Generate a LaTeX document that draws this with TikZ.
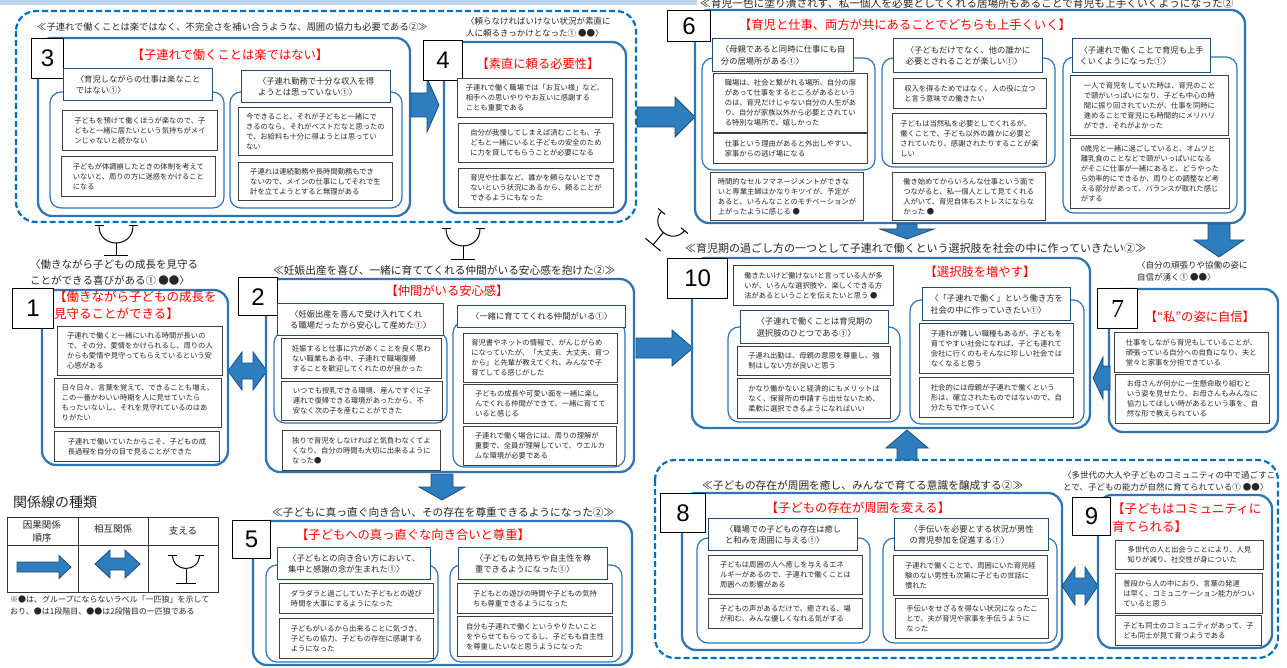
\documentclass[tikz,border=0pt]{standalone}
\usepackage{fontspec}
\setmainfont{Noto Sans CJK JP}
\newfontfamily\numfont{Liberation Sans}
\newfontfamily\numserif{Liberation Serif}
\definecolor{mainblue}{RGB}{46,117,182}
\definecolor{dashblue}{RGB}{0,112,192}
\definecolor{lblborder}{RGB}{31,78,121}
\definecolor{itemborder}{RGB}{64,64,64}
\definecolor{arrowfill}{RGB}{46,125,190}
\definecolor{arrowdark}{RGB}{31,78,121}
\definecolor{topband}{RGB}{189,215,238}
\definecolor{ttlred}{RGB}{255,0,0}
\newcommand{\BArR}[6]{\filldraw[barrow] (#1,#3-#4) -- (#2-#6,#3-#4) -- (#2-#6,#3-#5) -- (#2,#3) -- (#2-#6,#3+#5) -- (#2-#6,#3+#4) -- (#1,#3+#4) -- cycle;}
\newcommand{\BArL}[6]{\filldraw[barrow] (#1,#3-#4) -- (#2+#6,#3-#4) -- (#2+#6,#3-#5) -- (#2,#3) -- (#2+#6,#3+#5) -- (#2+#6,#3+#4) -- (#1,#3+#4) -- cycle;}
\newcommand{\BArD}[6]{\filldraw[barrow] (#3-#4,#1) -- (#3-#4,#2-#6) -- (#3-#5,#2-#6) -- (#3,#2) -- (#3+#5,#2-#6) -- (#3+#4,#2-#6) -- (#3+#4,#1) -- cycle;}
\newcommand{\BArU}[6]{\filldraw[barrow] (#3-#4,#1) -- (#3-#4,#2+#6) -- (#3-#5,#2+#6) -- (#3,#2) -- (#3+#5,#2+#6) -- (#3+#4,#2+#6) -- (#3+#4,#1) -- cycle;}
\newcommand{\BArLR}[6]{\filldraw[barrow] (#1,#3) -- (#1+#6,#3-#5) -- (#1+#6,#3-#4) -- (#2-#6,#3-#4) -- (#2-#6,#3-#5) -- (#2,#3) -- (#2-#6,#3+#5) -- (#2-#6,#3+#4) -- (#1+#6,#3+#4) -- (#1+#6,#3+#5) -- cycle;}
\tikzset{
 itm/.style={draw=itemborder, line width=0.9pt, fill=white, anchor=north west, inner sep=0pt, align=left, text=black!85, font=\fontsize{7.3}{10}\selectfont},
 lbl/.style={draw=lblborder, line width=1.3pt, fill=white, anchor=north west, inner sep=0pt, align=left, text=black!85, font=\fontsize{8.3}{11.5}\selectfont},
 plainlbl/.style={anchor=west, inner sep=0pt, align=left, text=black!85, font=\fontsize{8.5}{12}\selectfont},
 numbox/.style={draw=black, line width=1.3pt, fill=white, anchor=north west, inner sep=0pt, font=\fontsize{24}{24}\numfont},
 ttl/.style={text=ttlred, inner sep=0pt, align=left, font=\fontsize{12.3}{17}\selectfont},
 captxt/.style={anchor=west, inner sep=0pt, text=black!85, font=\fontsize{10.7}{13}\selectfont},
 mainbox/.style={draw=mainblue, line width=2.3pt, rounded corners=14pt},
 subbox/.style={draw=mainblue, line width=1.2pt, rounded corners=11pt},
 grp/.style={draw=dashblue, line width=2.2pt, dash pattern=on 6pt off 3pt, rounded corners=20pt},
 barrow/.style={fill=arrowfill, draw=arrowdark, line width=0.8pt},
 supline/.style={draw=black, line width=1pt},
 pics/support/.style n args={3}{code={
   \draw[supline] (-#1-4.5,0) -- (-#1+4.5,0) (#1-4.5,0) -- (#1+4.5,0);
   \draw[supline] (-#1,0) .. controls (-#1,1.33*#1) and (#1,1.33*#1) .. (#1,0);
   \draw[supline] (0,#1) -- (0,#1+#2) (-#3,#1+#2) -- (#3,#1+#2);
 }}
}
\begin{document}
\begin{tikzpicture}[x=1pt,y=-1pt]
\useasboundingbox[fill=white] (0,0) rectangle (1287,668);
\fill[topband] (0,0) rectangle (697,5);
\node[captxt] (topcap) at (700,3) {≪育児一色に塗り潰されず、私一個人を必要としてくれる居場所もあることで育児も上手くいくようになった②};

% ===== group 3/4 =====
\draw[grp] (16,11) rectangle (636,222);
\node[captxt, font=\fontsize{9.3}{12}\selectfont] (cap34) at (37,27) {≪子連れで働くことは楽ではなく、不完全さを補い合うような、周囲の協力も必要である②≫};
\draw[mainbox] (38,38) rectangle (410,216);
\draw[subbox] (50,92) rectangle (224,208);
\draw[subbox] (230,92) rectangle (402,208);
\node[numbox, minimum width=32, minimum height=40] (n3) at (31,38) {3};
\node[ttl] (t3) at (230,55) {【子連れで働くことは楽ではない】};
\node[lbl, minimum width=149, minimum height=32] (l3a) at (63,68) {〈育児しながらの仕事は楽なこと\\ではない①〉};
\node[lbl, minimum width=149, minimum height=32] (l3b) at (241,70) {〈子連れ勤務で十分な収入を得\\ようとは思っていない①〉};
\node[itm, minimum width=155, minimum height=40] (i3a1) at (62,110) {子どもを預けて働くほうが楽なので、子\\どもと一緒に居たいという気持ちがメイ\\ンじゃないと続かない};
\node[itm, minimum width=154, minimum height=40] (i3a2) at (61,156) {子どもが体調崩したときの体制を考えて\\いないと、周りの方に迷惑をかけること\\になる};
\node[itm, minimum width=154, minimum height=48] (i3b1) at (238,107) {今できること、それが子どもと一緒にで\\きるのなら、それがベストだなと思ったの\\で、お給料も十分に得ようとは思ってい\\ない};
\node[itm, minimum width=154, minimum height=38] (i3b2) at (238,162) {子連れは連続勤務や長時間勤務もでき\\ないので、メインの仕事にしてそれで生\\計を立てようとすると無理がある};

\BArR{411}{439}{105}{12}{27}{12}

\draw[mainbox] (444,42) rectangle (626,213);
\node[plainlbl] (l4) at (466,27) {〈頼らなければいけない状況が素直に\\人に頼るきっかけとなった① ●●〉};
\node[numbox, minimum width=39, minimum height=40] (n4) at (423,40) {4};
\node[ttl] (t4) at (538,64) {【素直に頼る必要性】};
\node[itm, minimum width=155, minimum height=39] (i41) at (457,78) {子連れで働く職場では「お互い様」など、\\相手への思いやりやお互いに感謝する\\ことも重要である};
\node[itm, minimum width=155, minimum height=39] (i42) at (458,123) {自分が我慢してしまえば済むことも、子\\どもと一緒にいると子どもの安全のため\\に力を貸してもらうことが必要になる};
\node[itm, minimum width=155, minimum height=39] (i43) at (458,168) {育児や仕事など、誰かを頼らないとでき\\ないという状況にあるから、頼ることが\\できるようにもなった};

\BArR{637}{695}{117}{10}{20}{20}

% ===== box 6 =====
\draw[mainbox] (695,10) rectangle (1245,223);
\draw[subbox] (702,58) rectangle (875,170);
\draw[subbox] (882,58) rectangle (1055,167);
\draw[subbox] (1063,57) rectangle (1237,213);
\node[numbox, minimum width=43, minimum height=31] (n6) at (667,10) {6};
\node[ttl] (t6) at (905,25) {【育児と仕事、両方が共にあることでどちらも上手くいく】};
\node[lbl, minimum width=141, minimum height=33] (l6a) at (712,38) {〈母親であると同時に仕事にも自\\分の居場所がある①〉};
\node[itm, minimum width=154, minimum height=59] (i6a1) at (713,73) {職場は、社会と繋がれる場所、自分の席\\があって仕事をするところがあるという\\のは、育児だけじゃない自分の人生があ\\り、自分が家族以外から必要とされてい\\る特別な場所で、嬉しかった};
\node[itm, minimum width=154, minimum height=30] (i6a2) at (713,133) {仕事という理由があると外出しやすい、\\家事からの逃げ場になる};
\node[itm, minimum width=153, minimum height=48] (i6a3) at (710,172) {時間的なセルフマネージメントができな\\いと専業主婦はかなりキツイが、予定が\\あると、いろんなことのモチベーションが\\上がったように感じる ●};
\node[lbl, minimum width=149, minimum height=34] (l6b) at (893,38) {〈子どもだけでなく、他の誰かに\\必要とされることが楽しい①〉};
\node[itm, minimum width=153, minimum height=30] (i6b1) at (893,78) {収入を得るためではなく、人の役に立つ\\と言う意味での働きたい};
\node[itm, minimum width=154, minimum height=50] (i6b2) at (892,113) {子どもは当然私を必要としてくれるが、\\働くことで、子ども以外の誰かに必要と\\されていたり、感謝されたりすることが楽\\しい};
\node[itm, minimum width=153, minimum height=48] (i6b3) at (892,172) {働き始めてからいろんな仕事という面で\\つながると、私一個人として見てくれる\\人がいて、育児自体もストレスにならな\\かった ●};
\node[lbl, minimum width=138, minimum height=34] (l6c) at (1072,38) {〈子連れで働くことで育児も上手\\くいくようになった①〉};
\node[itm, minimum width=158, minimum height=60] (i6c1) at (1070,75) {一人で育児をしていた時は、育児のこと\\で頭がいっぱいになり、子ども中心の時\\間に振り回されていたが、仕事を同時に\\進めることで育児にも時間的にメリハリ\\ができ、それがよかった};
\node[itm, minimum width=159, minimum height=70] (i6c2) at (1070,138) {0歳児と一緒に過ごしていると、オムツと\\離乳食のことなどで頭がいっぱいになる\\がそこに仕事が一緒にあると、どうやった\\ら効率的にできるか、周りとの調整など考\\える部分があって、バランスが取れた感じ\\がする};

\BArD{224}{239}{907}{10}{27}{10}
\BArD{224}{257}{1219}{11}{25}{17}

% ===== support symbols =====
\pic (sup1) at (116,226) {support={17}{13}{12}};
\pic (sup2) at (463,229) {support={17}{14}{12}};
\pic[rotate=-40] (sup3) at (673,221) {support={15}{16}{10}};

% ===== box 1 =====
\node[plainlbl, font=\fontsize{10.5}{16}\selectfont] (l1) at (30,273) {〈働きながら子どもの成長を見守る\\ことができる喜びがある① ●●〉};
\draw[mainbox] (42,290) rectangle (228,465);
\node[numbox, minimum width=41, minimum height=40] (n1) at (12,288) {1};
\node[ttl, anchor=north west, font=\fontsize{12.5}{17}\selectfont] (t1) at (54,291) {【働きながら子どもの成長を\\見守ることができる】};
\node[itm, minimum width=165, minimum height=49] (i11) at (57,326) {子連れで働くと一緒にいれる時間が長いの\\で、その分、愛情をかけられるし、周りの人\\からも愛情や見守ってもらえているという安\\心感がある};
\node[itm, minimum width=167, minimum height=49] (i12) at (54,378) {日々日々、言葉を覚えて、できることも増え、\\この一番かわいい時期を人に見せていたら\\もったいないし、それを見守れているのはあ\\りがたい};
\node[itm, minimum width=165, minimum height=30] (i13) at (54,431) {子連れで働いていたからこそ、子どもの成\\長過程を自分の目で見ることができた};

\BArLR{228}{267}{371}{8}{19}{14}

% ===== box 2 =====
\node[captxt] (cap2) at (273,270) {≪妊娠出産を喜び、一緒に育ててくれる仲間がいる安心感を抱けた②≫};
\draw[mainbox] (266,279) rectangle (634,472);
\draw[subbox] (274,332) rectangle (447,423);
\draw[subbox] (453,322) rectangle (625,467);
\node[numbox, minimum width=39, minimum height=38] (n2) at (238,277) {2};
\node[ttl] (t2) at (447,291) {【仲間がいる安心感】};
\node[lbl, minimum width=166, minimum height=32] (l2a) at (277,303) {〈妊娠出産を喜んで受け入れてくれ\\る職場だったから安心して産めた①〉};
\node[itm, minimum width=160, minimum height=40] (i2a1) at (281,338) {妊娠すると仕事に穴があくことを良く思わ\\ない職業もある中、子連れで職場復帰\\することを歓迎してくれたのが良かった};
\node[itm, minimum width=161, minimum height=39] (i2a2) at (281,381) {いつでも授乳できる環境、産んですぐに子\\連れで復帰できる環境があったから、不\\安なく次の子を産むことができた};
\node[itm, minimum width=158, minimum height=40] (i2a3) at (282,430) {独りで育児をしなければと気負わなくてよ\\くなり、自分の時間も大切に出来るように\\なった●};
\node[lbl, minimum width=168, minimum height=22] (l2b) at (457,305) {〈一緒に育ててくれる仲間がいる①〉};
\node[itm, minimum width=154, minimum height=49] (i2b1) at (463,333) {育児書やネットの情報で、がんじがらめ\\になっていたが、「大丈夫、大丈夫、育つ\\から」と先輩が教えてくれ、みんなで子\\育てしてる感じがした};
\node[itm, minimum width=154, minimum height=39] (i2b2) at (463,384) {子どもの成長や可愛い面を一緒に楽し\\んでくれる仲間ができて、一緒に育てて\\いると感じる};
\node[itm, minimum width=153, minimum height=39] (i2b3) at (463,426) {子連れで働く場合には、周りの理解が\\重要で、全員が理解していて、ウエルカ\\ムな環境が必要である};

\BArD{474}{500}{442}{11}{23}{13}
\BArR{636}{693}{348}{10}{18}{21}

% ===== box 10 =====
\node[captxt, font=\fontsize{11}{13}\selectfont] (cap10) at (685,248) {≪育児期の過ごし方の一つとして子連れで働くという選択肢を社会の中に作っていきたい②≫};
\draw[mainbox] (692,258) rectangle (1090,428);
\draw[subbox] (728,327) rectangle (900,422);
\draw[subbox] (910,300) rectangle (1084,424);
\node[numbox, minimum width=60, minimum height=40] (n10) at (667,258) {10};
\node[itm, minimum width=160, minimum height=40] (i10t) at (733,265) {働きたいけど働けないと言っている人が多\\いが、いろんな選択肢や、楽しくできる方\\法があるということを伝えたいと思う ●};
\node[ttl] (t10) at (980,272) {【選択肢を増やす】};
\node[lbl, minimum width=148, minimum height=33] (l10a) at (740,310) {〈子連れで働くことは育児期の\\選択肢のひとつである①〉};
\node[itm, minimum width=153, minimum height=29] (i10a1) at (737,346) {子連れ出勤は、母親の意思を尊重し、強\\制はしない方が良いと思う};
\node[itm, minimum width=153, minimum height=40] (i10a2) at (737,378) {かなり働かないと経済的にもメリットは\\なく、保育所の申請すら出せないため、\\柔軟に選択できるようになればいい};
\node[lbl, minimum width=148, minimum height=33] (l10b) at (922,287) {〈「子連れで働く」という働き方を\\社会の中に作っていきたい①〉};
\node[itm, minimum width=154, minimum height=50] (i10b1) at (919,323) {子連れが難しい職種もあるが、子どもを\\育てやすい社会になれば、子ども連れて\\会社に行くのもそんなに珍しい社会では\\なくなると思う};
\node[itm, minimum width=154, minimum height=40] (i10b2) at (919,377) {社会的には母親が子連れで働くという\\形は、確立されたものではないので、自\\分たちで作っていく};

% ===== box 7 =====
\node[plainlbl] (l7) at (1137,271) {〈自分の頑張りや協働の姿に\\自信が湧く① ●●〉};
\draw[mainbox] (1109,289) rectangle (1278,432);
\node[numbox, minimum width=40, minimum height=40, font=\fontsize{26}{26}\numserif] (n7) at (1097,288) {7};
\node[ttl] (t7) at (1200,317) {【“私”の姿に自信】};
\node[itm, minimum width=154, minimum height=40] (i71) at (1114,332) {仕事をしながら育児もしていることが、\\頑張っている自分への自負になり、夫と\\堂々と家事を分担できている};
\node[itm, minimum width=154, minimum height=49] (i72) at (1115,374) {お母さんが何かに一生懸命取り組むと\\いう姿を見せたり、お母さんもみんなに\\協力してほしい時があるという事を、自\\然な形で教えられている};

\BArL{1110}{1093}{378}{12}{21}{10}
\BArU{460}{430}{907}{10}{21}{18}

% ===== group 8/9 =====
\draw[grp] (655,460) rectangle (1278,658);
\node[captxt] (cap8) at (702,485) {≪子どもの存在が周囲を癒し、みんなで育てる意識を醸成する②≫};
\draw[mainbox] (682,493) rectangle (1062,650);
\draw[subbox] (697,538) rectangle (870,643);
\draw[subbox] (883,538) rectangle (1057,643);
\node[numbox, minimum width=45, minimum height=39] (n8) at (660,493) {8};
\node[ttl] (t8) at (858,508) {【子どもの存在が周囲を変える】};
\node[lbl, minimum width=149, minimum height=32] (l8a) at (708,518) {〈職場での子どもの存在は癒し\\と和みを周囲に与える①〉};
\node[itm, minimum width=154, minimum height=39] (i8a1) at (708,555) {子どもは周囲の人へ癒しを与えるエネ\\ルギーがあるので、子連れで働くことは\\周囲への影響がある};
\node[itm, minimum width=154, minimum height=30] (i8a2) at (708,598) {子どもの声があるだけで、癒される、場\\が和む、みんな優しくなれる気がする};
\node[lbl, minimum width=154, minimum height=32] (l8b) at (894,518) {〈手伝いを必要とする状況が男性\\の育児参加を促進する①〉};
\node[itm, minimum width=154, minimum height=40] (i8b1) at (893,555) {子連れで働くことで、周囲にいた育児経\\験のない男性も次第に子どもの世話に\\慣れた};
\node[itm, minimum width=153, minimum height=40] (i8b2) at (895,598) {手伝いをせざるを得ない状況になったこ\\とで、夫が育児や家事を手伝うように\\なった};

\BArLR{1062}{1098}{586}{8}{19}{13}

\node[plainlbl] (l9) at (1063,481) {〈多世代の大人や子どものコミュニティの中で過ごすこ\\とで、子どもの能力が自然に育てられている① ●●〉};
\draw[mainbox] (1098,495) rectangle (1272,648);
\node[numbox, minimum width=38, minimum height=38] (n9) at (1072,497) {9};
\node[ttl, anchor=north west, font=\fontsize{12.5}{17.5}\selectfont] (t9) at (1112,503) {【子どもはコミュニティに\\育てられる】};
\node[itm, minimum width=148, minimum height=29] (i91) at (1115,540) {多世代の人と出会うことにより、人見\\知りが減り、社交性が身についた};
\node[itm, minimum width=147, minimum height=40] (i92) at (1115,573) {普段から人の中におり、言葉の発達\\は早く、コミュニケーション能力がつい\\ていると思う};
\node[itm, minimum width=146, minimum height=30] (i93) at (1115,615) {子ども同士のコミュニティがあって、子\\ども同士が見て育つようである};

% ===== box 5 =====
\node[captxt] (cap5) at (272,512) {≪子どもに真っ直ぐ向き合い、その存在を尊重できるようになった②≫};
\draw[mainbox] (253,521) rectangle (632,665);
\draw[subbox] (266,565) rectangle (438,662);
\draw[subbox] (450,565) rectangle (622,662);
\node[numbox, minimum width=38, minimum height=38] (n5) at (232,520) {5};
\node[ttl] (t5) at (413,535) {【子どもへの真っ直ぐな向き合いと尊重】};
\node[lbl, minimum width=153, minimum height=32] (l5a) at (277,547) {〈子どもとの向き合い方において、\\集中と感謝の念が生まれた①〉};
\node[itm, minimum width=154, minimum height=30] (i5a1) at (279,583) {ダラダラと過ごしていた子どもとの遊び\\時間を大事にするようになった};
\node[itm, minimum width=154, minimum height=40] (i5a2) at (279,618) {子どもがいるから出来ることに気づき、\\子どもの協力、子どもの存在に感謝する\\ようになった};
\node[lbl, minimum width=149, minimum height=32] (l5b) at (458,547) {〈子どもの気持ちや自主性を尊\\重できるようになった①〉};
\node[itm, minimum width=155, minimum height=30] (i5b1) at (457,583) {子どもとの遊びの時間や子どもの気持\\ちも尊重できるようになった};
\node[itm, minimum width=155, minimum height=40] (i5b2) at (457,616) {自分も子連れで働くというやりたいこと\\をやらせてもらってるし、子どもも自主性\\を尊重したいなと思うようになった};

% ===== legend =====
\node[anchor=west, inner sep=0pt, text=black!85, font=\fontsize{14}{16}\selectfont] (legtitle) at (13,502) {関係線の種類};
\draw[black!80, line width=1pt] (7,517) rectangle (218,592);
\draw[black!80, line width=1pt] (78,517) -- (78,592) (148,517) -- (148,592) (7,545) -- (218,545);
\node[inner sep=0pt, align=center, text=black!85, font=\fontsize{9.5}{13}\selectfont] (legh1) at (42,531) {因果関係\\順序};
\node[inner sep=0pt, text=black!85, font=\fontsize{9.5}{13}\selectfont] (legh2) at (113,529) {相互関係};
\node[inner sep=0pt, text=black!85, font=\fontsize{9.5}{13}\selectfont] (legh3) at (183,531) {支える};
\BArR{17}{71}{567}{5}{11.5}{12}
\BArLR{95}{140}{564}{6}{14}{15}
\pic (legsup) at (186,555) {support={13.5}{15}{10}};
\node[anchor=north west, inner sep=0pt, align=left, text=black!85, font=\fontsize{8}{11.5}\selectfont] (legnote) at (10,596) {※●は、グループにならないラベル「一匹狼」を示して\\おり、●は1段階目、●●は2段階目の一匹狼である};
\end{tikzpicture}
\end{document}
